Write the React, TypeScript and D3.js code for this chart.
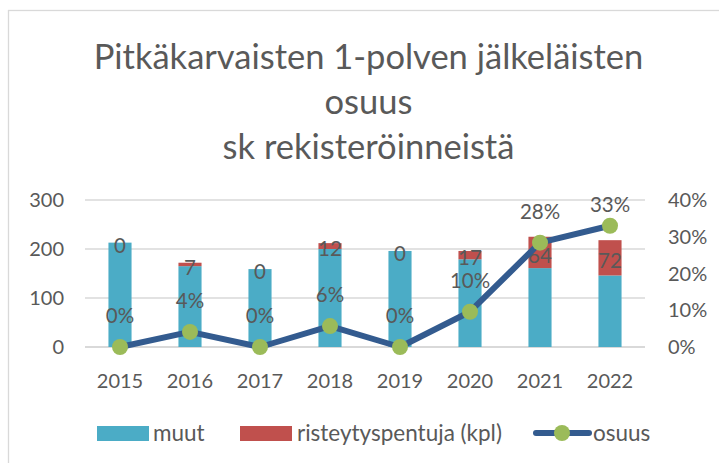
import React from "react";
import * as d3 from "d3";

const YEARS = ["2015", "2016", "2017", "2018", "2019", "2020", "2021", "2022"];
const MUUT = [213, 165, 159, 200, 196, 179, 161, 146];
const RISTEYTYS = [0, 7, 0, 12, 0, 17, 64, 72];
const OSUUS = [0, 0.041, 0, 0.057, 0, 0.096, 0.284, 0.33];
const LEFT_TICKS = [0, 100, 200, 300];
const RIGHT_TICKS = [0, 0.1, 0.2, 0.3, 0.4];
const TITLE = ["Pitkäkarvaisten 1-polven jälkeläisten", "osuus", "sk rekisteröinneistä"];
const LEGEND = ["muut", "risteytyspentuja (kpl)", "osuus"];

const W = 719;
const H = 463;
const M = { top: 200, right: 74, bottom: 116, left: 85 };
const FONT = "Lato, 'Open Sans', sans-serif";
const TXT = "#595959";
const C_MUUT = "#4BACC6";
const C_RIST = "#C0504D";
const C_LINE = "#335B8F";
const C_DOT = "#9BBB59";

const App: React.FC = () => {
  const x = d3.scaleBand<string>().domain(YEARS).range([M.left, W - M.right]).padding(0);
  const y = d3.scaleLinear().domain([0, 300]).range([H - M.bottom, M.top]);
  const y2 = d3.scaleLinear().domain([0, 0.4]).range([H - M.bottom, M.top]);
  const barW = x.bandwidth() * 0.33;
  const cx = (d: string) => x(d)! + x.bandwidth() / 2;

  const line = d3.line<number>()
    .x((_, i) => cx(YEARS[i]))
    .y(d => y2(d));

  const pct = d3.format(".0%");

  return (
    <div style={{ position: "fixed", left: 0, top: 0 }}>
      <svg width={W} height={H} style={{ display: "block", fontFamily: FONT }}>
        <rect x={0} y={0} width={W} height={H} fill="#fff" />
        <rect x={8.5} y={10.5} width={W + 10} height={H + 10} fill="none" stroke="#D9D9D9" strokeWidth={1.3} />

        {/* Title */}
        {TITLE.map((t, i) => (
          <text key={i} x={(95 + 642) / 2} y={69 + i * 45} textAnchor="middle" fontSize={34.5} fill={TXT}>
            {t}
          </text>
        ))}

        {/* Grid */}
        {LEFT_TICKS.map(t => (
          <line key={t} x1={M.left} x2={W - M.right} y1={y(t)} y2={y(t)}
            stroke="#D9D9D9" strokeWidth={t === 0 ? 2 : 1.5} />
        ))}

        {/* Left axis labels */}
        {LEFT_TICKS.map(t => (
          <text key={t} x={64} y={y(t)} dy="0.35em" textAnchor="end" fontSize={20} fill={TXT}>{t}</text>
        ))}
        {/* Right axis labels */}
        {RIGHT_TICKS.map(t => (
          <text key={t} x={668} y={y2(t)} dy="0.35em" textAnchor="start" fontSize={20} fill={TXT}>{pct(t)}</text>
        ))}

        {/* Bars */}
        {YEARS.map((yr, i) => (
          <g key={yr}>
            <rect x={cx(yr) - barW / 2} y={y(MUUT[i])} width={barW} height={y(0) - y(MUUT[i])} fill={C_MUUT} />
            <rect x={cx(yr) - barW / 2} y={y(MUUT[i] + RISTEYTYS[i])} width={barW}
              height={y(MUUT[i]) - y(MUUT[i] + RISTEYTYS[i])} fill={C_RIST} />
          </g>
        ))}

        {/* Bar labels */}
        {YEARS.map((yr, i) => (
          <text key={yr} x={cx(yr)} y={(y(MUUT[i]) + y(MUUT[i] + RISTEYTYS[i])) / 2 + 3}
            dy="0.35em" textAnchor="middle" fontSize={20.5} fill={TXT}>
            {RISTEYTYS[i]}
          </text>
        ))}

        {/* Year labels */}
        {YEARS.map(yr => (
          <text key={yr} x={cx(yr)} y={381} dy="0.35em" textAnchor="middle" fontSize={20} fill={TXT}>{yr}</text>
        ))}

        {/* Line */}
        <path d={line(OSUUS)!} fill="none" stroke={C_LINE} strokeWidth={6} strokeLinejoin="round" />
        {OSUUS.map((v, i) => (
          <circle key={i} cx={cx(YEARS[i])} cy={y2(v)} r={8} fill={C_DOT} />
        ))}
        {OSUUS.map((v, i) => (
          <text key={i} x={cx(YEARS[i])} y={Math.max(y2(v) - 31, 205)} dy="0.35em" textAnchor="middle"
            fontSize={20.5} fill={TXT}>
            {pct(v)}
          </text>
        ))}

        {/* Legend */}
        <rect x={97} y={426} width={52} height={15} fill={C_MUUT} />
        <text x={153} y={433} dy="0.35em" fontSize={22.5} fill={TXT}>{LEGEND[0]}</text>
        <rect x={240} y={426} width={52} height={15} fill={C_RIST} />
        <text x={297} y={433} dy="0.35em" fontSize={22.5} fill={TXT}>{LEGEND[1]}</text>
        <line x1={536} x2={589} y1={433} y2={433} stroke={C_LINE} strokeWidth={6} strokeLinecap="round" />
        <circle cx={562} cy={433} r={8} fill={C_DOT} />
        <text x={593} y={433} dy="0.35em" fontSize={22.5} fill={TXT}>{LEGEND[2]}</text>
      </svg>
    </div>
  );
};

export default App;
